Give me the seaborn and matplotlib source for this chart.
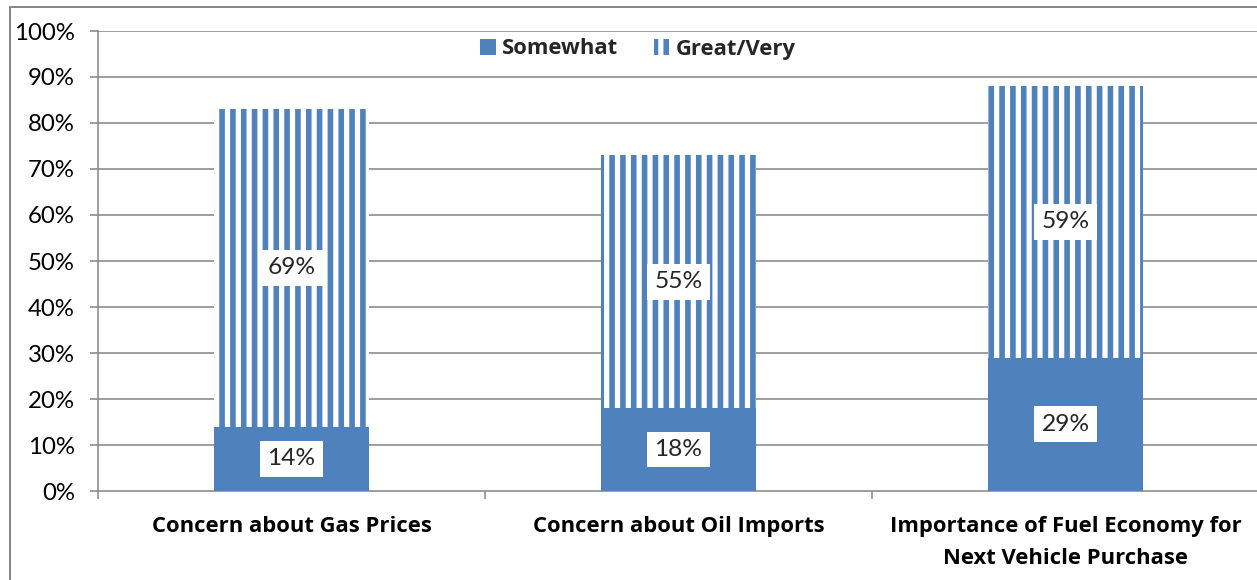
import matplotlib
matplotlib.use("Agg")
import matplotlib.pyplot as plt
from matplotlib.patches import Patch, Rectangle
from matplotlib.ticker import PercentFormatter
import seaborn as sns
import pandas as pd
import numpy as np

# Survey results (percent of respondents)
categories = [
    "Concern about Gas Prices",
    "Concern about Oil Imports",
    "Importance of Fuel Economy for\nNext Vehicle Purchase",
]
somewhat = [14, 18, 29]
great_very = [69, 55, 59]
series_names = ["Somewhat", "Great/Very"]
yticks = list(range(0, 101, 10))

BLUE = "#4F81BD"
GRID = "#898989"
DPI = 130
PX = 72 / DPI  # points per pixel
BOLD_FONT = ["Open Sans", "DejaVu Sans"]

sns.set_theme(style="white")
plt.rcParams["font.family"] = ["Lato", "DejaVu Sans"]
plt.rcParams["hatch.linewidth"] = 5.6 * PX

df = pd.DataFrame({
    "category": categories,
    "somewhat": somewhat,
    "great_very": great_very,
})
df["total"] = df["somewhat"] + df["great_very"]

fig = plt.figure(figsize=(1257 / DPI, 580 / DPI), dpi=DPI)
ax = fig.add_axes([98 / 1257, 89 / 580, 1161 / 1257, 460 / 580])

# gridlines behind the bars
ax.set_axisbelow(True)
for v in yticks[1:]:
    ax.axhline(v, color=GRID, lw=1.6 * PX, zorder=0)

# stacked bars: striped upper segment drawn as the full total, solid base on top
sns.barplot(data=df, x="category", y="total", ax=ax, width=0.4,
            color="white", edgecolor=BLUE, linewidth=0, hatch="||",
            saturation=1, zorder=2)
sns.barplot(data=df, x="category", y="somewhat", ax=ax, width=0.4,
            color=BLUE, linewidth=0, saturation=1, zorder=3)

# value labels in white boxes, centred in each segment
box = dict(boxstyle="square,pad=0.3", fc="white", ec="none")
for i, (s, g) in enumerate(zip(somewhat, great_very)):
    ax.text(i, s / 2, f"{s}%", ha="center", va="center", fontsize=24.5 * PX,
            bbox=box, zorder=5)
    ax.text(i, s + g / 2, f"{g}%", ha="center", va="center", fontsize=24.5 * PX,
            bbox=box, zorder=5)

ax.set_xlim(-0.5, len(categories) - 0.5)
ax.set_ylim(0, 100)
ax.set_yticks(yticks)
ax.yaxis.set_major_formatter(PercentFormatter(decimals=0))
ax.set_xlabel("")
ax.set_ylabel("")

ax.set_xticks(range(len(categories)))
ax.set_xticklabels(categories, fontweight="bold", fontsize=22 * PX,
                   family=BOLD_FONT, linespacing=1.68)
ax.set_xticks(np.arange(-0.5, len(categories) + 0.5, 1), minor=True)
ax.tick_params(axis="x", which="major", length=0, pad=25 * PX, colors="black")
ax.tick_params(axis="x", which="minor", length=8 * PX, width=1.6 * PX,
               color=GRID, direction="out", bottom=True)
ax.tick_params(axis="y", length=8 * PX, width=1.6 * PX, color=GRID,
               direction="out", left=True, pad=15 * PX, labelsize=24 * PX,
               labelcolor="black")

for side in ["top", "right"]:
    ax.spines[side].set_visible(False)
for side in ["left", "bottom"]:
    ax.spines[side].set_color(GRID)
    ax.spines[side].set_linewidth(1.6 * PX)

# legend
handles = [
    Patch(facecolor=BLUE, edgecolor=BLUE, linewidth=0, label=series_names[0]),
    Patch(facecolor="white", edgecolor=BLUE, linewidth=0, hatch="||",
          label=series_names[1]),
]
fig.legend(handles=handles, loc="center", bbox_to_anchor=(638 / 1257, 1 - 49 / 580),
           ncol=2, frameon=False,
           prop=dict(weight="bold", size=22 * PX, family=BOLD_FONT),
           handlelength=0.7, handleheight=0.7, handletextpad=0.3,
           columnspacing=1.6)

# chart-area frame
fig.add_artist(Rectangle((10 / 1257, -0.1), 1.2, 1.1 - 7 / 580,
                         transform=fig.transFigure, fill=False,
                         edgecolor=GRID, linewidth=2 * PX))

fig.savefig("out.png", dpi=DPI)
